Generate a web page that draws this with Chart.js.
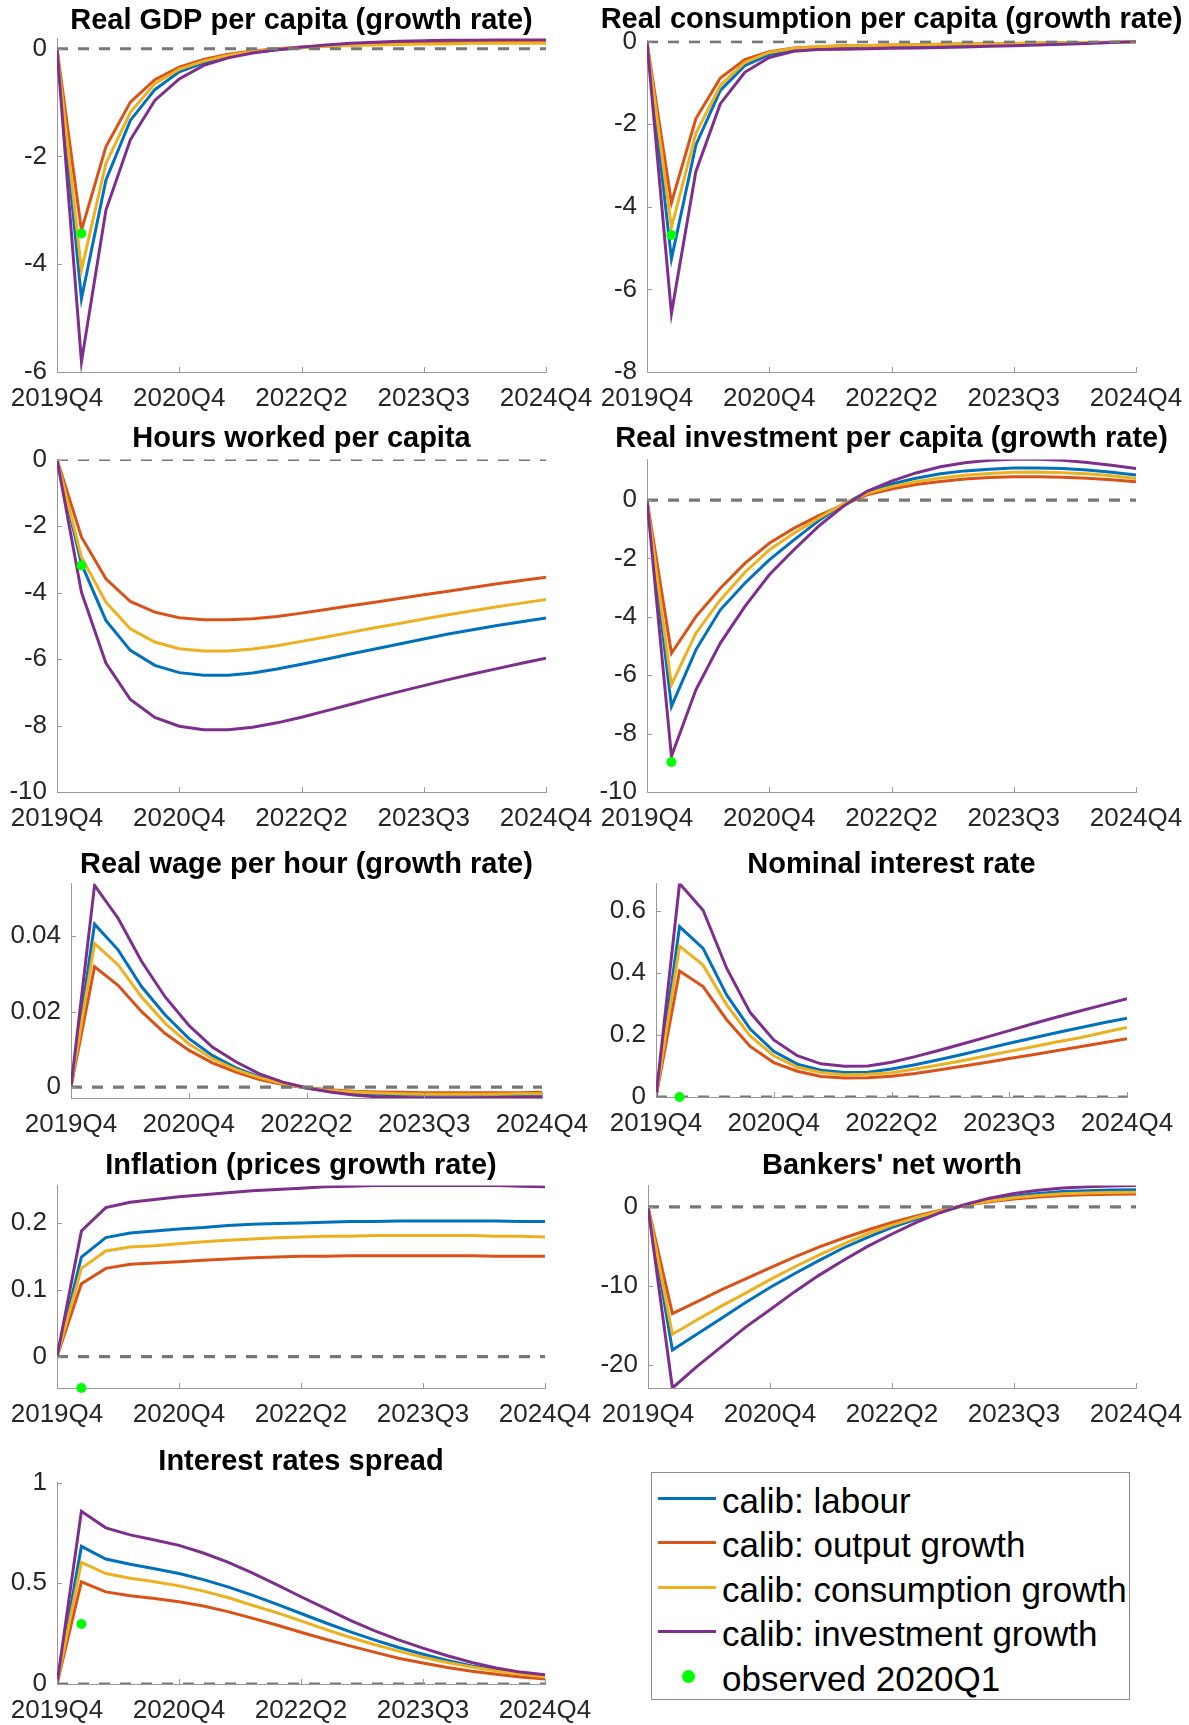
<!DOCTYPE html>
<html>
<head>
<meta charset="utf-8">
<title>Impulse responses</title>
<script src="https://cdn.jsdelivr.net/npm/chart.js@4.4.1/dist/chart.umd.min.js"></script>
<style>
  html, body { margin: 0; padding: 0; background: #fff; width: 1189px; height: 1725px; overflow: hidden; }
  body { position: relative; font-family: 'Liberation Sans', Arial, sans-serif; }
  canvas { position: absolute; }
  #legend { position: absolute; left: 651px; top: 1472px; width: 479px; height: 228px; border: 1px solid #8c8c8c; background: #fff; box-sizing: border-box; }
  #legend .item { position: absolute; left: 0; width: 100%; height: 0; }
  #legend .swatch { position: absolute; left: 6px; width: 58px; height: 3px; top: -1.5px; }
  #legend .dot { position: absolute; left: 30px; top: -6.5px; width: 13px; height: 13px; border-radius: 50%; background: #00ff00; }
  #legend .txt { position: absolute; left: 70px; top: -19px; font-size: 35px; line-height: 44px; color: #000; white-space: nowrap; }
</style>
</head>
<body>
<div id="legend"></div>
<script>
// x axis: 21 quarters, tick every 5 quarters
const xTickLabels = ['2019Q4', '2020Q4', '2022Q2', '2023Q3', '2024Q4'];
const seriesNames = ['calib: labour', 'calib: output growth', 'calib: consumption growth', 'calib: investment growth'];
const seriesColors = ['#0072BD', '#D95319', '#EDB120', '#7E2F8E'];
const observedName = 'observed 2020Q1';

// Real GDP per capita (growth rate)
const gdpLabour = [0, -4.64, -2.44, -1.33, -0.76, -0.43, -0.26, -0.14, -0.07, -0.02, 0.02, 0.05, 0.07, 0.09, 0.10, 0.11, 0.12, 0.12, 0.13, 0.13, 0.13];
const gdpOutput = [0, -3.37, -1.82, -0.99, -0.575, -0.34, -0.2, -0.1, -0.04, 0.0, 0.03, 0.05, 0.07, 0.09, 0.10, 0.11, 0.11, 0.12, 0.12, 0.12, 0.12];
const gdpConsumption = [0, -4.11, -2.13, -1.18, -0.65, -0.38, -0.23, -0.12, -0.05, -0.01, 0.02, 0.04, 0.06, 0.07, 0.08, 0.09, 0.09, 0.10, 0.10, 0.10, 0.10];
const gdpInvestment = [0, -5.81, -3.0, -1.69, -0.96, -0.56, -0.31, -0.17, -0.08, -0.02, 0.03, 0.07, 0.10, 0.12, 0.14, 0.15, 0.16, 0.16, 0.17, 0.17, 0.17];
const gdpObserved = -3.43;

// Real consumption per capita (growth rate)
const consLabour = [0, -5.26, -2.5, -1.18, -0.58, -0.31, -0.19, -0.14, -0.12, -0.11, -0.10, -0.09, -0.08, -0.07, -0.06, -0.05, -0.04, -0.03, -0.02, -0.01, 0.0];
const consOutput = [0, -3.9, -1.86, -0.88, -0.43, -0.24, -0.15, -0.12, -0.1, -0.09, -0.08, -0.07, -0.06, -0.05, -0.05, -0.04, -0.03, -0.02, -0.02, -0.01, 0.0];
const consConsumption = [0, -4.5, -2.22, -1.06, -0.5, -0.26, -0.16, -0.12, -0.1, -0.09, -0.08, -0.07, -0.06, -0.05, -0.05, -0.04, -0.03, -0.02, -0.02, -0.01, 0.0];
const consInvestment = [0, -6.58, -3.14, -1.5, -0.74, -0.38, -0.23, -0.19, -0.18, -0.17, -0.16, -0.15, -0.14, -0.13, -0.11, -0.1, -0.08, -0.06, -0.04, -0.02, 0.01];
const consObserved = -4.68;

// Hours worked per capita
const hoursLabour = [0, -3.14, -4.84, -5.74, -6.19, -6.41, -6.49, -6.49, -6.42, -6.3, -6.16, -6.01, -5.85, -5.7, -5.55, -5.4, -5.25, -5.12, -4.99, -4.88, -4.77];
const hoursOutput = [0, -2.33, -3.59, -4.27, -4.59, -4.76, -4.82, -4.82, -4.79, -4.72, -4.62, -4.51, -4.4, -4.29, -4.18, -4.07, -3.96, -3.85, -3.74, -3.64, -3.54];
const hoursConsumption = [0, -2.94, -4.29, -5.09, -5.49, -5.69, -5.76, -5.76, -5.7, -5.6, -5.47, -5.34, -5.2, -5.06, -4.93, -4.8, -4.67, -4.55, -4.43, -4.32, -4.21];
const hoursInvestment = [0, -3.99, -6.12, -7.22, -7.76, -8.02, -8.13, -8.13, -8.05, -7.92, -7.75, -7.56, -7.37, -7.17, -6.98, -6.8, -6.62, -6.45, -6.29, -6.13, -5.98];
const hoursObserved = -3.19;

// Real investment per capita (growth rate)
const invLabour = [0, -7.07, -5.13, -3.76, -2.85, -2.05, -1.37, -0.72, -0.15, 0.27, 0.55, 0.75, 0.9, 1.0, 1.06, 1.1, 1.1, 1.08, 1.03, 0.95, 0.86];
const invOutput = [0, -5.25, -3.99, -3.02, -2.17, -1.48, -0.97, -0.54, -0.17, 0.18, 0.38, 0.53, 0.64, 0.72, 0.77, 0.8, 0.8, 0.78, 0.75, 0.7, 0.63];
const invConsumption = [0, -6.33, -4.56, -3.42, -2.48, -1.71, -1.14, -0.63, -0.14, 0.22, 0.46, 0.63, 0.76, 0.85, 0.91, 0.95, 0.96, 0.94, 0.9, 0.83, 0.74];
const invInvestment = [0, -8.78, -6.5, -4.9, -3.65, -2.56, -1.71, -0.91, -0.23, 0.3, 0.65, 0.93, 1.14, 1.28, 1.36, 1.4, 1.4, 1.36, 1.29, 1.19, 1.08];
const invObserved = -8.97;

// Real wage per hour (growth rate)
const wageLabour = [0, 0.0432, 0.0364, 0.0266, 0.0191, 0.0129, 0.0084, 0.0051, 0.0027, 0.0009, -0.0003, -0.0011, -0.0016, -0.0019, -0.0021, -0.0022, -0.0022, -0.0022, -0.0022, -0.0021, -0.0021];
const wageOutput = [0, 0.0319, 0.027, 0.02, 0.0142, 0.0098, 0.0064, 0.004, 0.002, 0.0007, -0.0002, -0.0007, -0.0011, -0.0013, -0.0014, -0.0015, -0.0015, -0.0015, -0.0015, -0.0015, -0.0014];
const wageConsumption = [0, 0.0381, 0.0324, 0.0239, 0.0169, 0.0115, 0.0075, 0.0046, 0.0025, 0.0009, -0.0002, -0.0009, -0.0013, -0.0016, -0.0018, -0.0019, -0.0019, -0.0019, -0.0019, -0.0018, -0.0018];
const wageInvestment = [0, 0.0535, 0.0448, 0.0333, 0.0239, 0.0164, 0.0106, 0.0067, 0.0035, 0.0013, -0.0002, -0.0013, -0.0021, -0.0026, -0.0028, -0.0029, -0.0029, -0.0029, -0.0028, -0.0028, -0.0027];

// Nominal interest rate
const rateLabour = [0, 0.549, 0.479, 0.329, 0.219, 0.147, 0.106, 0.086, 0.079, 0.08, 0.09, 0.104, 0.12, 0.137, 0.155, 0.173, 0.19, 0.207, 0.223, 0.239, 0.254];
const rateOutput = [0, 0.406, 0.356, 0.249, 0.163, 0.111, 0.083, 0.066, 0.061, 0.062, 0.067, 0.076, 0.087, 0.099, 0.111, 0.124, 0.136, 0.149, 0.162, 0.175, 0.188];
const rateConsumption = [0, 0.486, 0.425, 0.297, 0.197, 0.133, 0.096, 0.079, 0.072, 0.073, 0.078, 0.09, 0.103, 0.117, 0.132, 0.147, 0.162, 0.177, 0.191, 0.208, 0.224];
const rateInvestment = [0, 0.688, 0.602, 0.415, 0.272, 0.184, 0.133, 0.107, 0.099, 0.1, 0.112, 0.13, 0.15, 0.171, 0.192, 0.214, 0.236, 0.257, 0.277, 0.297, 0.317];
const rateObserved = 0;

// Inflation (prices growth rate)
const inflLabour = [0, 0.149, 0.178, 0.185, 0.188, 0.191, 0.193, 0.196, 0.198, 0.199, 0.2, 0.201, 0.202, 0.202, 0.203, 0.203, 0.203, 0.203, 0.203, 0.202, 0.202];
const inflOutput = [0, 0.109, 0.132, 0.138, 0.14, 0.142, 0.144, 0.146, 0.148, 0.149, 0.15, 0.15, 0.151, 0.151, 0.151, 0.151, 0.151, 0.151, 0.15, 0.15, 0.15];
const inflConsumption = [0, 0.132, 0.158, 0.164, 0.166, 0.169, 0.172, 0.174, 0.176, 0.178, 0.179, 0.18, 0.18, 0.181, 0.181, 0.181, 0.181, 0.181, 0.18, 0.18, 0.179];
const inflInvestment = [0, 0.188, 0.223, 0.231, 0.235, 0.239, 0.242, 0.245, 0.248, 0.25, 0.252, 0.254, 0.255, 0.256, 0.256, 0.256, 0.256, 0.256, 0.256, 0.255, 0.254];
const inflObserved = -0.047;

// Bankers' net worth
const nwLabour = [0, -18.1, -16.1, -14.1, -12.1, -10.2, -8.45, -6.8, -5.2, -3.85, -2.6, -1.55, -0.59, 0.2, 0.85, 1.35, 1.7, 1.93, 2.05, 2.12, 2.15];
const nwOutput = [0, -13.5, -12.0, -10.5, -9.1, -7.7, -6.36, -5.1, -3.97, -2.93, -1.97, -1.15, -0.42, 0.2, 0.65, 1.0, 1.25, 1.42, 1.52, 1.58, 1.62];
const nwConsumption = [0, -16.1, -14.3, -12.55, -10.9, -9.2, -7.6, -6.1, -4.7, -3.4, -2.3, -1.35, -0.5, 0.2, 0.75, 1.15, 1.45, 1.65, 1.76, 1.82, 1.85];
const nwInvestment = [0, -22.9, -20.2, -17.7, -15.2, -13.0, -10.75, -8.66, -6.78, -5.0, -3.43, -1.97, -0.71, 0.3, 1.1, 1.7, 2.1, 2.38, 2.55, 2.65, 2.7];

// Interest rates spread
const sprLabour = [0, 0.683, 0.62, 0.594, 0.572, 0.548, 0.518, 0.482, 0.441, 0.396, 0.35, 0.304, 0.26, 0.219, 0.181, 0.148, 0.117, 0.09, 0.071, 0.054, 0.041];
const sprOutput = [0, 0.507, 0.457, 0.438, 0.424, 0.408, 0.387, 0.359, 0.327, 0.293, 0.257, 0.222, 0.189, 0.158, 0.128, 0.104, 0.082, 0.063, 0.048, 0.035, 0.025];
const sprConsumption = [0, 0.604, 0.548, 0.525, 0.507, 0.487, 0.461, 0.429, 0.391, 0.354, 0.313, 0.271, 0.232, 0.196, 0.163, 0.133, 0.107, 0.084, 0.064, 0.049, 0.035];
const sprInvestment = [0, 0.857, 0.775, 0.74, 0.715, 0.688, 0.65, 0.605, 0.551, 0.493, 0.433, 0.375, 0.317, 0.265, 0.219, 0.178, 0.14, 0.107, 0.079, 0.059, 0.046];
const sprObserved = 0.298;

const fontFamily = "'Liberation Sans', Arial, sans-serif";
const axisColor = '#999999';
const tickColor = '#262626';

// plot-area boxes [left, right, top, bottom] and title centre
const panels = [
  { title: 'Real GDP per capita (growth rate)', box: [57, 546, 38, 372], titleY: 20,
    series: [gdpLabour, gdpOutput, gdpConsumption, gdpInvestment], observed: gdpObserved,
    yMin: -6, yMax: 0.19, yTicks: [-6, -4, -2, 0] },
  { title: 'Real consumption per capita (growth rate)', box: [647, 1136, 40, 372], titleY: 19,
    series: [consLabour, consOutput, consConsumption, consInvestment], observed: consObserved,
    yMin: -8, yMax: 0.03, yTicks: [-8, -6, -4, -2, 0] },
  { title: 'Hours worked per capita', box: [57, 546, 459, 792], titleY: 438,
    series: [hoursLabour, hoursOutput, hoursConsumption, hoursInvestment], observed: hoursObserved,
    yMin: -10, yMax: 0, yTicks: [-10, -8, -6, -4, -2, 0] },
  { title: 'Real investment per capita (growth rate)', box: [647, 1136, 459, 792], titleY: 438,
    series: [invLabour, invOutput, invConsumption, invInvestment], observed: invObserved,
    yMin: -10, yMax: 1.39, yTicks: [-10, -8, -6, -4, -2, 0] },
  { title: 'Real wage per hour (growth rate)', box: [71, 542, 883, 1098], titleY: 864,
    series: [wageLabour, wageOutput, wageConsumption, wageInvestment], observed: null,
    yMin: -0.0029, yMax: 0.054, yTicks: [0, 0.02, 0.04] },
  { title: 'Nominal interest rate', box: [656, 1127, 883, 1097], titleY: 864,
    series: [rateLabour, rateOutput, rateConsumption, rateInvestment], observed: rateObserved,
    yMin: 0, yMax: 0.688, yTicks: [0, 0.2, 0.4, 0.6] },
  { title: 'Inflation (prices growth rate)', box: [57, 545, 1185, 1388], titleY: 1165,
    series: [inflLabour, inflOutput, inflConsumption, inflInvestment], observed: inflObserved,
    yMin: -0.047, yMax: 0.256, yTicks: [0, 0.1, 0.2] },
  { title: "Bankers' net worth", box: [648, 1136, 1185, 1388], titleY: 1165,
    series: [nwLabour, nwOutput, nwConsumption, nwInvestment], observed: null,
    yMin: -22.9, yMax: 2.7, yTicks: [-20, -10, 0] },
  { title: 'Interest rates spread', box: [57, 545, 1482, 1684], titleY: 1461,
    series: [sprLabour, sprOutput, sprConsumption, sprInvestment], observed: sprObserved,
    yMin: 0, yMax: 1, yTicks: [0, 0.5, 1] }
];

// MATLAB style ticks pointing into the plot
const innerTicks = {
  id: 'innerTicks',
  afterDraw(chart) {
    const { ctx, chartArea, scales } = chart;
    ctx.save();
    ctx.strokeStyle = axisColor;
    ctx.lineWidth = 1;
    ctx.beginPath();
    scales.x.ticks.forEach(t => {
      const px = Math.round(scales.x.getPixelForValue(t.value)) + 0.5;
      ctx.moveTo(px, chartArea.bottom);
      ctx.lineTo(px, chartArea.bottom - 5);
    });
    scales.y.ticks.forEach(t => {
      const py = Math.round(scales.y.getPixelForValue(t.value)) + 0.5;
      ctx.moveTo(chartArea.left, py);
      ctx.lineTo(chartArea.left + 5, py);
    });
    ctx.stroke();
    ctx.restore();
  }
};

function makePanel(p) {
  const yW = 62, xH = 46, tSize = 29;
  const left = p.box[0] - yW;
  const width = yW + (p.box[1] - p.box[0]) + yW;
  const top = p.titleY - tSize / 2;
  const height = (p.box[3] - top) + xH;

  const canvas = document.createElement('canvas');
  canvas.width = width;
  canvas.height = height;
  canvas.style.left = left + 'px';
  canvas.style.top = top + 'px';
  canvas.style.width = width + 'px';
  canvas.style.height = height + 'px';
  document.body.appendChild(canvas);

  const datasets = [];
  p.series.forEach((vals, k) => {
    datasets.push({
      label: seriesNames[k],
      data: vals.map((v, i) => ({ x: i, y: v })),
      borderColor: seriesColors[k],
      borderWidth: 3,
      pointRadius: 0,
      fill: false,
      tension: 0,
      order: 5 - k
    });
  });
  datasets.push({
    label: 'zero',
    data: [{ x: 0, y: 0 }, { x: 20, y: 0 }],
    borderColor: '#777777',
    borderWidth: 3.2,
    borderDash: [11, 10],
    pointRadius: 0,
    order: 1
  });
  if (p.observed !== null) {
    datasets.push({
      label: observedName,
      data: [{ x: 1, y: p.observed }],
      showLine: false,
      pointRadius: 5,
      pointBackgroundColor: '#00ff00',
      pointBorderWidth: 0,
      borderColor: '#00ff00',
      clip: false,
      order: 0
    });
  }

  new Chart(canvas.getContext('2d'), {
    type: 'line',
    data: { datasets: datasets },
    options: {
      responsive: false,
      animation: false,
      devicePixelRatio: 1,
      layout: { padding: 0 },
      plugins: {
        legend: { display: false },
        tooltip: { enabled: false },
        title: {
          display: true,
          text: p.title,
          color: '#000',
          font: { family: fontFamily, size: tSize, weight: 'bold', lineHeight: 1 },
          padding: { top: 0, bottom: p.box[2] - p.titleY - tSize / 2 }
        }
      },
      scales: {
        x: {
          type: 'linear',
          min: 0,
          max: 20,
          grid: { display: false, drawTicks: false },
          border: { display: true, color: axisColor, width: 1 },
          ticks: {
            stepSize: 5,
            autoSkip: false,
            maxRotation: 0,
            padding: 11,
            color: tickColor,
            font: { family: fontFamily, size: 26 },
            callback: v => xTickLabels[v / 5]
          },
          afterFit: s => { s.height = xH; }
        },
        y: {
          min: p.yMin,
          max: p.yMax,
          grid: { display: false, drawTicks: false },
          border: { display: true, color: axisColor, width: 1 },
          ticks: {
            padding: 10,
            color: tickColor,
            font: { family: fontFamily, size: 26 },
            callback: v => String(+v.toFixed(4))
          },
          afterBuildTicks: s => { s.ticks = p.yTicks.map(v => ({ value: v })); },
          afterFit: s => { s.width = yW; }
        },
        // empty right axis so the title centres over the plot area
        yPad: {
          position: 'right',
          grid: { display: false, drawTicks: false },
          border: { display: false },
          ticks: { display: false },
          afterFit: s => { s.width = yW; }
        }
      }
    },
    plugins: [innerTicks]
  });
}

panels.forEach(makePanel);

// legend box (bottom right cell)
const legend = document.getElementById('legend');
const rowY = [25, 69, 114, 158, 203];
seriesNames.forEach((name, k) => {
  const item = document.createElement('div');
  item.className = 'item';
  item.style.top = rowY[k] + 'px';
  item.innerHTML = '<div class="swatch" style="background:' + seriesColors[k] + '"></div><div class="txt">' + name + '</div>';
  legend.appendChild(item);
});
const obsItem = document.createElement('div');
obsItem.className = 'item';
obsItem.style.top = rowY[4] + 'px';
obsItem.innerHTML = '<div class="dot"></div><div class="txt">' + observedName + '</div>';
legend.appendChild(obsItem);
</script>
</body>
</html>
